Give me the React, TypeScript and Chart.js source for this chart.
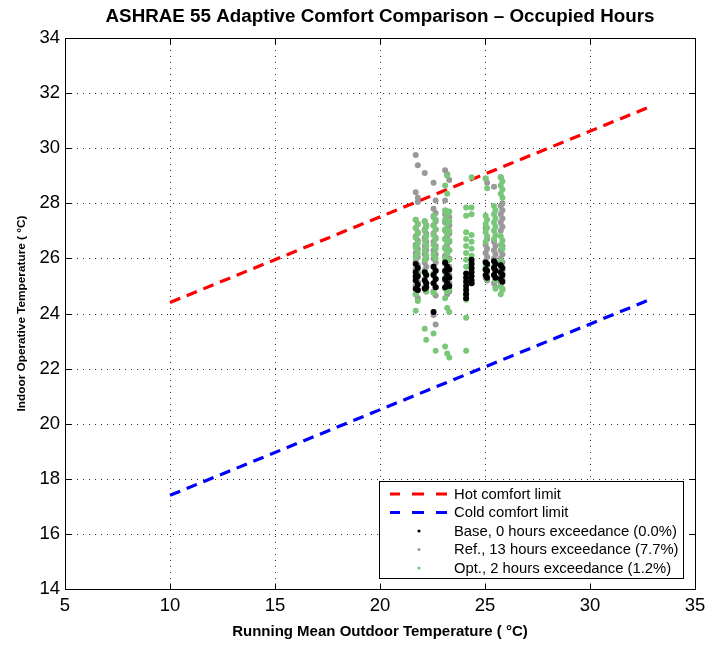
import React, { useEffect, useRef } from "react";
import { Chart, registerables } from "chart.js";

Chart.register(...registerables);

// ---- Data -------------------------------------------------------------
const xTicks = [5, 10, 15, 20, 25, 30, 35];
const yTicks = [14, 16, 18, 20, 22, 24, 26, 28, 30, 32, 34];

const limitX = [10, 33];
const hotLimitY = [24.4, 31.55];
const coldLimitY = [17.4, 24.55];

// running mean outdoor temperature of each occupied day
const dayRunningMean = [
  21.7, 21.8, 22.13, 22.2, 22.55, 22.65, 23.1, 23.2, 23.3,
  24.1, 24.36, 25.03, 25.1, 25.43, 25.5, 25.75, 25.83,
];

const baseByDay = [
  [25.8, 25.5, 25.2, 24.9, 25.35],
  [25.65, 25.35, 25.05, 24.85],
  [25.5, 25.2, 24.9],
  [25.4, 25.1, 24.95],
  [25.7, 25.4, 25.1, 24.05],
  [25.55, 25.25, 24.95],
  [25.85, 25.55, 25.25, 24.95],
  [25.7, 25.4, 25.1],
  [25.6, 25.3, 25.0],
  [25.45, 25.3, 25.15, 25.0, 24.85, 24.7, 24.55],
  [25.95, 25.8, 25.65, 25.5, 25.35, 25.2, 25.1],
  [25.85, 25.6, 25.4],
  [25.8, 25.55, 25.3],
  [25.9, 25.65, 25.4],
  [25.8, 25.55, 25.3],
  [25.75, 25.5, 25.25],
  [25.65, 25.4, 25.15],
];

const refByDay = [
  [29.75, 28.4, 27.4, 27.1, 26.8, 26.5, 26.2, 25.9, 25.6, 25.3, 25.0, 24.7],
  [29.38, 28.2, 28.05, 27.25, 26.95, 26.65, 26.35, 26.05, 25.75, 25.45, 25.15, 24.85, 24.55],
  [29.1, 27.35, 27.05, 26.75, 26.45, 26.15, 25.85, 25.55, 25.25, 24.95],
  [27.2, 26.9, 26.6, 26.3, 26.0, 25.7, 25.4, 25.1, 24.8],
  [28.75, 27.8, 27.5, 27.2, 26.9, 26.6, 26.3, 26.0, 25.7, 25.4, 25.1, 24.8, 23.95],
  [28.1, 27.65, 27.35, 27.05, 26.75, 26.45, 26.15, 25.85, 25.55, 25.25, 24.95, 24.65, 23.6],
  [29.2, 28.1, 27.6, 27.3, 27.0, 26.7, 26.4, 26.1, 25.8, 25.5, 25.2, 24.9],
  [29.05, 27.7, 27.4, 27.1, 26.8, 26.5, 26.2, 25.9, 25.6, 25.3, 25.0, 24.7],
  [28.85, 27.5, 27.2, 26.9, 26.6, 26.3, 26.0, 25.7, 25.4, 25.1, 24.8],
  [],
  [],
  [28.9, 27.1, 26.5, 26.2, 25.9, 25.6, 25.3],
  [28.75, 26.7, 26.35, 26.05, 25.75, 25.45, 25.2],
  [28.6, 26.6, 26.3, 26.0, 25.7, 25.4, 25.1],
  [26.45, 26.15, 25.85, 25.55, 25.25, 24.95],
  [28.95, 27.9, 27.6, 27.3, 27.0, 26.3, 26.0, 25.7, 25.4, 25.1],
  [28.0, 27.75, 27.45, 27.15, 26.45, 26.15, 25.85, 25.55, 25.25, 24.9],
];

const optByDay = [
  [27.4, 27.1, 26.75, 26.4, 26.05, 24.7, 24.1],
  [27.25, 26.9, 26.55, 26.2, 25.5, 24.85, 24.45],
  [27.35, 27.0, 26.65, 26.3, 25.95, 24.95, 23.45],
  [27.15, 26.8, 26.45, 26.1, 25.4, 24.8, 23.05],
  [27.55, 27.2, 26.85, 26.5, 26.15, 25.45, 24.75, 23.27],
  [27.4, 27.05, 26.7, 26.35, 26.0, 24.95, 22.65],
  [28.65, 27.75, 27.4, 27.05, 26.7, 26.35, 26.0, 25.3, 24.55, 22.8],
  [29.0, 28.35, 27.6, 27.25, 26.9, 26.55, 26.2, 25.5, 24.8, 24.2, 22.55],
  [27.7, 27.35, 27.0, 26.65, 26.3, 25.95, 24.9, 24.05, 22.4],
  [27.85, 27.55, 26.95, 26.7, 26.45, 26.2, 25.95, 25.7, 24.7, 24.5, 23.85, 22.65],
  [28.95, 27.85, 27.6, 26.85, 26.6, 26.35, 26.1, 25.85, 25.6, 25.1],
  [28.9, 27.55, 27.25, 26.95, 26.6, 25.7],
  [28.55, 27.4, 27.1, 26.8, 25.55, 25.25],
  [27.9, 27.6, 27.3, 27.0, 26.7],
  [27.75, 27.45, 27.15, 26.85, 25.2, 24.9],
  [28.95, 28.65, 28.35, 26.8, 26.5, 25.9, 25.0, 24.7],
  [28.8, 28.5, 28.2, 26.65, 26.35, 25.45, 24.85],
];

const seriesLabels = [
  "Hot comfort limit",
  "Cold comfort limit",
  "Base, 0 hours exceedance (0.0%)",
  "Ref., 13 hours exceedance (7.7%)",
  "Opt., 2 hours exceedance (1.2%)",
];

const titleText = "ASHRAE 55 Adaptive Comfort Comparison \u2013 Occupied Hours";
const xTitleText = "Running Mean Outdoor Temperature ( \u00B0C)";
const yTitleText = "Indoor Operative Temperature ( \u00B0C)";

// ---- Styles -----------------------------------------------------------
const FONT = "'Liberation Sans', Arial, Helvetica, sans-serif";
const HOT = "#ff0000";
const COLD = "#0000ff";
const BASE_C = "#000000";
const REF_C = "#999999";
const OPT_C = "rgb(122,199,122)";
const DASH = [11, 7];

const toPoints = (byDay: number[][]) =>
  byDay.flatMap((ys, i) => ys.map((y) => ({ x: dayRunningMean[i], y })));

const framePlugin = {
  id: "matlabFrame",
  beforeDatasetsDraw(chart: any) {
    const { ctx, chartArea: a, scales } = chart;
    const xs = scales.x;
    const ys = scales.y;
    ctx.save();
    ctx.strokeStyle = "rgba(0,0,0,0.8)";
    ctx.lineWidth = 1;
    ctx.setLineDash([1, 5]);
    for (const v of xTicks) {
      const px = Math.round(xs.getPixelForValue(v)) + 0.5;
      if (px <= a.left + 1 || px >= a.right - 1) continue;
      ctx.beginPath();
      ctx.moveTo(px, a.top);
      ctx.lineTo(px, a.bottom);
      ctx.stroke();
    }
    for (const v of yTicks) {
      const py = Math.round(ys.getPixelForValue(v)) + 0.5;
      if (py <= a.top + 1 || py >= a.bottom - 1) continue;
      ctx.beginPath();
      ctx.moveTo(a.left, py);
      ctx.lineTo(a.right, py);
      ctx.stroke();
    }
    ctx.restore();
  },
  afterDatasetsDraw(chart: any) {
    const { ctx, chartArea: a, scales } = chart;
    const xs = scales.x;
    const ys = scales.y;
    ctx.save();
    ctx.strokeStyle = "#000";
    ctx.lineWidth = 1;
    ctx.setLineDash([]);
    const L = Math.round(a.left) + 0.5;
    const R = Math.round(a.right) + 0.5;
    const T = Math.round(a.top) + 0.5;
    const B = Math.round(a.bottom) + 0.5;
    ctx.strokeRect(L, T, R - L, B - T);
    const tl = 6;
    ctx.beginPath();
    for (const v of xTicks) {
      const px = Math.round(xs.getPixelForValue(v)) + 0.5;
      ctx.moveTo(px, B);
      ctx.lineTo(px, B - tl);
      ctx.moveTo(px, T);
      ctx.lineTo(px, T + tl);
    }
    for (const v of yTicks) {
      const py = Math.round(ys.getPixelForValue(v)) + 0.5;
      ctx.moveTo(L, py);
      ctx.lineTo(L + tl, py);
      ctx.moveTo(R, py);
      ctx.lineTo(R - tl, py);
    }
    ctx.stroke();
    ctx.restore();
  },
  afterDraw(chart: any) {
    const { ctx, chartArea: a } = chart;
    const cx = (a.left + a.right) / 2;
    const cy = (a.top + a.bottom) / 2;
    ctx.save();
    ctx.fillStyle = "#000";
    ctx.textAlign = "center";
    ctx.textBaseline = "middle";
    ctx.font = `bold 18.8px ${FONT}`;
    ctx.fillText(titleText, cx, 17);
    ctx.font = `bold 15px ${FONT}`;
    ctx.fillText(xTitleText, cx, 632);
    ctx.save();
    ctx.translate(22, cy);
    ctx.rotate(-Math.PI / 2);
    ctx.font = `bold 11.8px ${FONT}`;
    ctx.fillText(yTitleText, 0, 0);
    ctx.restore();

    // legend
    const bx = 379.5, by = 481.5, bw = 304, bh = 97;
    ctx.fillStyle = "#fff";
    ctx.fillRect(bx, by, bw, bh);
    ctx.strokeStyle = "#000";
    ctx.lineWidth = 1;
    ctx.strokeRect(bx, by, bw, bh);
    const rowY = [494, 512.5, 531, 549.5, 568];
    const colors = [HOT, COLD, BASE_C, REF_C, OPT_C];
    ctx.font = `14.8px ${FONT}`;
    ctx.textAlign = "left";
    ctx.textBaseline = "middle";
    seriesLabels.forEach((lbl, i) => {
      const y = rowY[i];
      if (i < 2) {
        ctx.strokeStyle = colors[i];
        ctx.lineWidth = 3;
        ctx.setLineDash([]);
        ctx.beginPath();
        ctx.moveTo(390, y);
        ctx.lineTo(400, y);
        ctx.moveTo(412, y);
        ctx.lineTo(424, y);
        ctx.moveTo(436, y);
        ctx.lineTo(447, y);
        ctx.stroke();
      } else {
        ctx.fillStyle = colors[i];
        ctx.beginPath();
        ctx.arc(419, y, 1.6, 0, Math.PI * 2);
        ctx.fill();
      }
      ctx.fillStyle = "#000";
      ctx.fillText(lbl, 454, y + 0.5);
    });
    ctx.restore();
  },
};

export default function App() {
  const ref = useRef<HTMLCanvasElement | null>(null);

  useEffect(() => {
    document.body.style.margin = "0";
    const canvas = ref.current;
    if (!canvas) return;
    const pointStyle = (color: string) => ({
      backgroundColor: color,
      borderColor: color,
      borderWidth: 0,
      pointRadius: 3,
      pointHoverRadius: 3,
      showLine: false,
    });
    const chart = new Chart(canvas, {
      type: "scatter",
      data: {
        datasets: [
          {
            label: seriesLabels[0],
            data: limitX.map((x, i) => ({ x, y: hotLimitY[i] })),
            showLine: true,
            borderColor: HOT,
            backgroundColor: HOT,
            borderWidth: 3.2,
            borderDash: DASH,
            pointRadius: 0,
            order: 3,
          },
          {
            label: seriesLabels[1],
            data: limitX.map((x, i) => ({ x, y: coldLimitY[i] })),
            showLine: true,
            borderColor: COLD,
            backgroundColor: COLD,
            borderWidth: 3.2,
            borderDash: DASH,
            pointRadius: 0,
            order: 3,
          },
          { label: seriesLabels[2], data: toPoints(baseByDay), ...pointStyle(BASE_C), order: 0 },
          { label: seriesLabels[3], data: toPoints(refByDay), ...pointStyle(REF_C), order: 2 },
          { label: seriesLabels[4], data: toPoints(optByDay), ...pointStyle(OPT_C), order: 1 },
        ] as any,
      },
      options: {
        animation: false,
        responsive: false,
        devicePixelRatio: 1,
        layout: { padding: { top: 38, right: 12, left: 0, bottom: 0 } },
        plugins: {
          legend: { display: false },
          title: { display: false },
          tooltip: { enabled: false },
        },
        scales: {
          x: {
            type: "linear",
            min: 5,
            max: 35,
            afterBuildTicks: (s: any) => {
              s.ticks = xTicks.map((v) => ({ value: v }));
            },
            afterFit: (s: any) => {
              s.height = 56;
              s.paddingLeft = 0;
              s.paddingRight = 0;
            },
            grid: { display: false, drawTicks: false },
            border: { display: false },
            ticks: {
              color: "#000",
              padding: 6,
              maxRotation: 0,
              font: { family: FONT, size: 18.5 },
            },
          },
          y: {
            type: "linear",
            min: 14,
            max: 34,
            afterBuildTicks: (s: any) => {
              s.ticks = yTicks.map((v) => ({ value: v }));
            },
            afterFit: (s: any) => {
              s.width = 65;
              s.paddingTop = 0;
              s.paddingBottom = 0;
            },
            grid: { display: false, drawTicks: false },
            border: { display: false },
            ticks: {
              color: "#000",
              padding: 5,
              font: { family: FONT, size: 18.5 },
            },
          },
        },
      } as any,
      plugins: [framePlugin],
    });
    return () => chart.destroy();
  }, []);

  return (
    <div style={{ position: "absolute", left: 0, top: 0, width: 707, height: 645 }}>
      <canvas ref={ref} width={707} height={645} style={{ width: 707, height: 645 }} />
    </div>
  );
}
